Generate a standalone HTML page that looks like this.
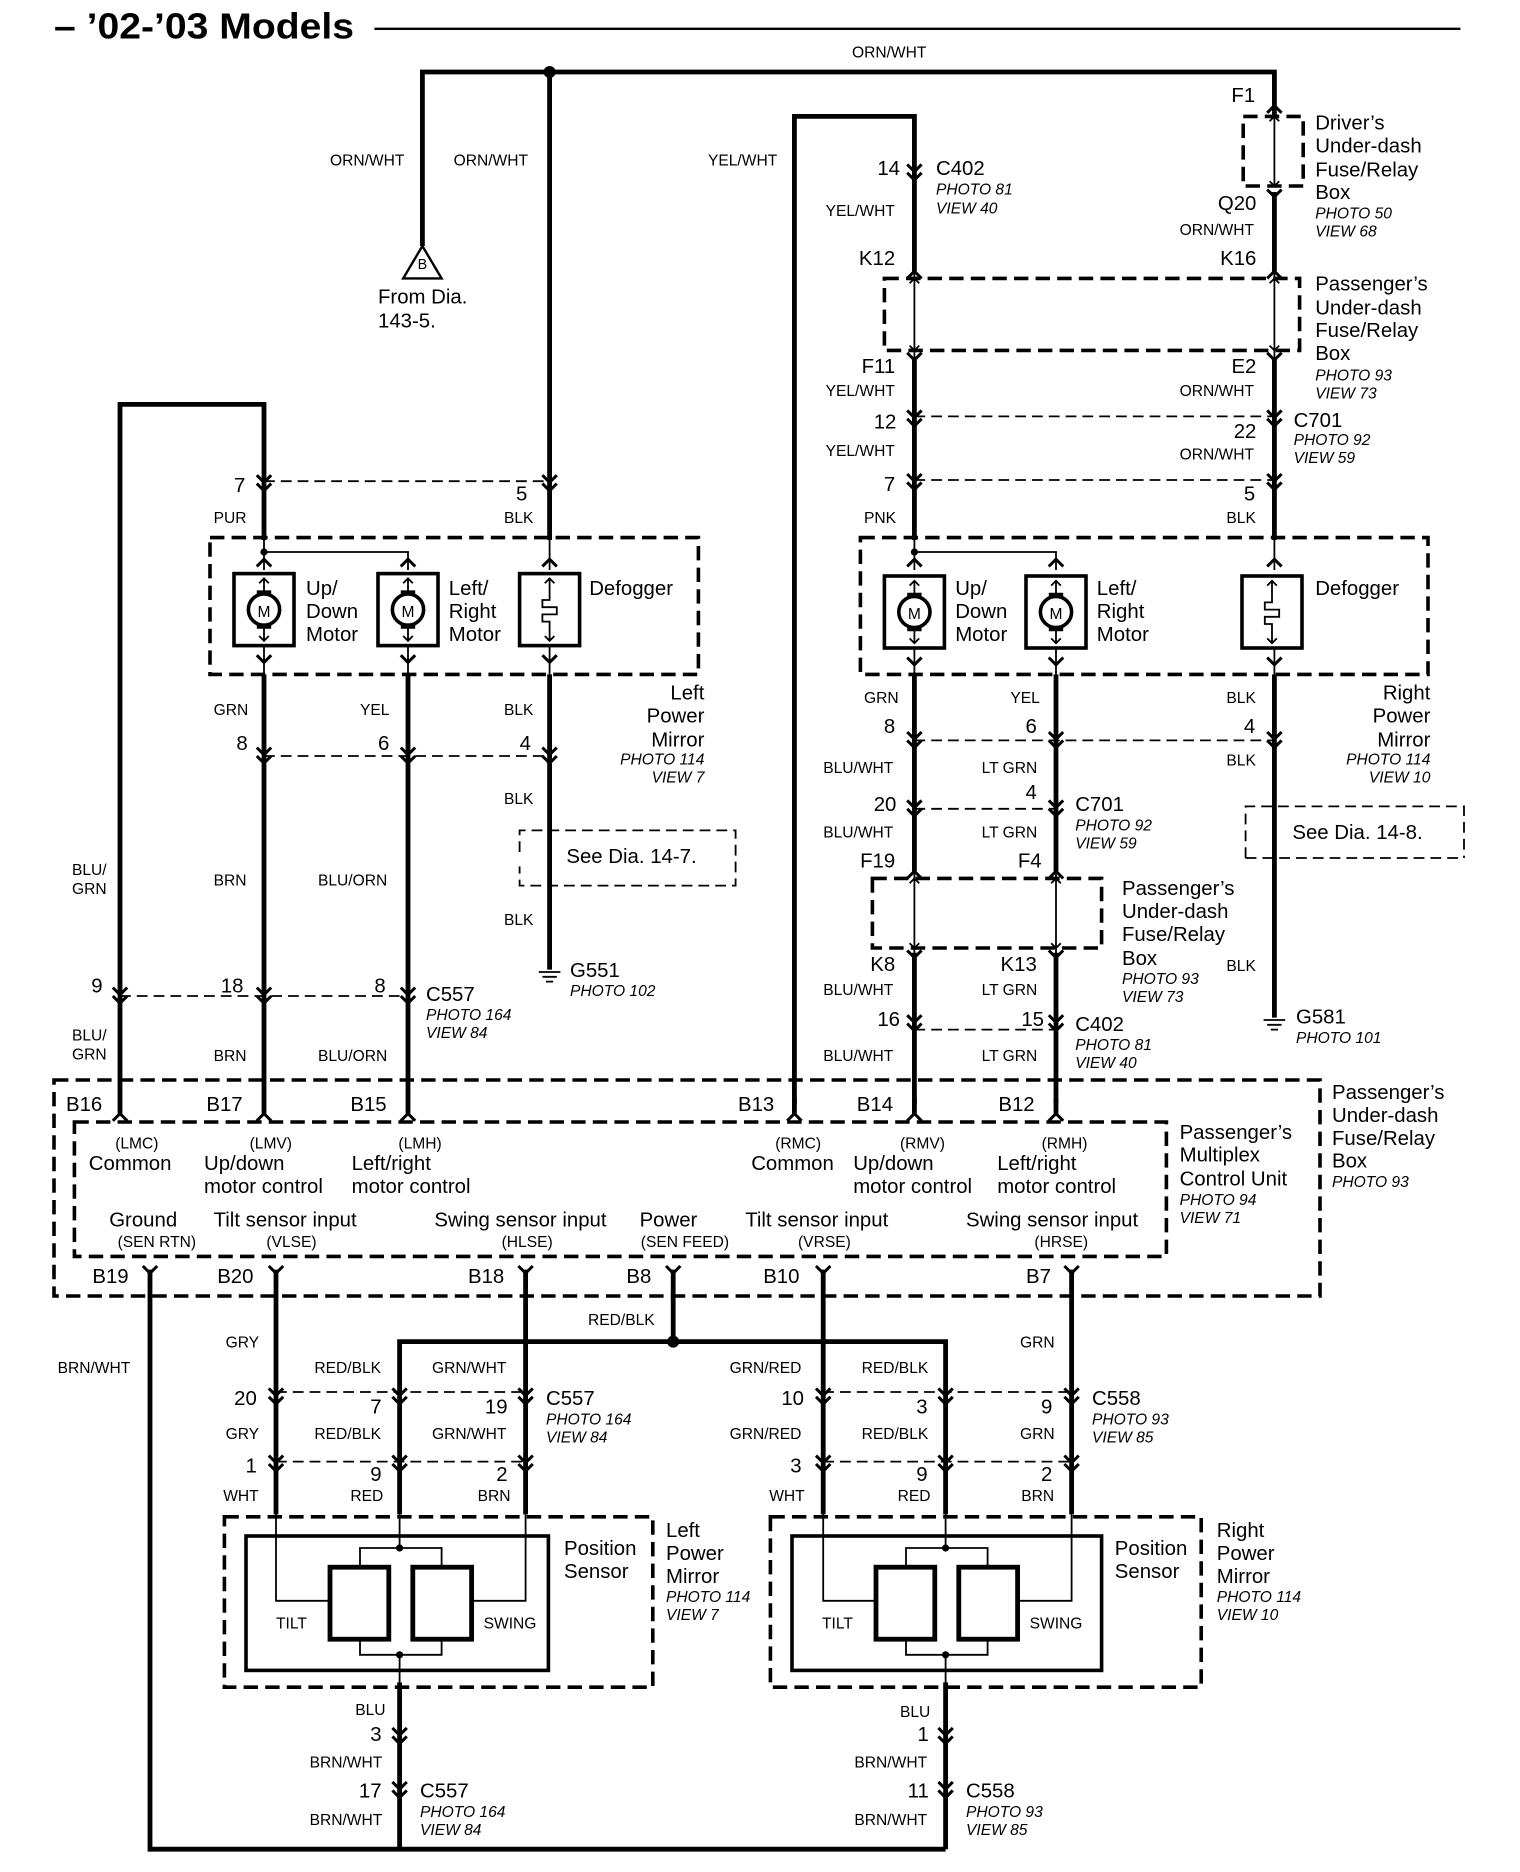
<!DOCTYPE html>
<html><head><meta charset="utf-8"><style>
html,body{margin:0;padding:0;background:#fff}
svg{display:block}
text{font-family:"Liberation Sans",Arial,sans-serif;fill:#000}
.t{font-size:17px}
.s{font-size:13px}
.i{font-size:13px;font-style:italic}
.x{font-size:12px}
.w{stroke:#000;stroke-width:4;fill:none}
.n{stroke:#000;stroke-width:1.5;fill:none}
.d{stroke:#000;stroke-width:1.5;fill:none;stroke-dasharray:9,5}
.D{stroke:#000;stroke-width:3;fill:none;stroke-dasharray:12,6}
.c{stroke:#000;stroke-width:2.5;fill:none}
</style></head><body>
<svg width="1520" height="1872" viewBox="0 0 1266.67 1560" xmlns="http://www.w3.org/2000/svg">
<defs>
<g id="cn"><path class="c" d="M-6,-5 L0,1 L6,-5 M-6,2 L0,8 L6,2"/></g>
<g id="pu"><path class="c" d="M-6,6 L0,0 L6,6"/></g>
<g id="pd"><path class="c" d="M-6,-6 L0,0 L6,-6"/></g>
<g id="mot"><rect x="-25" y="0" width="50" height="60" stroke="#000" stroke-width="3" fill="none"/>
<circle cx="0" cy="30" r="13" stroke="#000" stroke-width="3" fill="none"/><text x="0" y="36" class="s" text-anchor="middle">M</text>
<path class="n" d="M0,4 V17 M0,43 V56 M-4,8 L0,4 L4,8 M-4,52 L0,56 L4,52"/><path stroke="#000" stroke-width="4" d="M-6,16 H6 M-6,44 H6"/></g>
<g id="def"><rect x="-25" y="0" width="50" height="60" stroke="#000" stroke-width="3" fill="none"/>
<path class="n" d="M0,4 V22 H-6 V28 H6 V34 H-6 V40 H0 V56 M-4,8 L0,4 L4,8 M-4,52 L0,56 L4,52"/></g>
<g id="gnd"><path class="n" d="M-9,0 H9 M-6,4 H6 M-3,8 H3" stroke-width="2"/></g>
</defs>

<!-- Title -->
<text x="45" y="32" style="font-size:30px;font-weight:bold" textLength="250" lengthAdjust="spacingAndGlyphs">– ’02-’03 Models</text>
<line x1="312" y1="24" x2="1217" y2="24" stroke="#000" stroke-width="2"/>

<!-- Top ORN/WHT -->
<path class="w" d="M352,205 V60 H1062 V93"/>
<circle cx="458" cy="60" r="5"/>
<text x="710" y="48" class="s">ORN/WHT</text>
<text x="275" y="138" class="s">ORN/WHT</text>
<text x="378" y="138" class="s">ORN/WHT</text>
<path d="M352,205 L336,232 H368 Z" stroke="#000" stroke-width="2" fill="#fff"/>
<text x="352" y="224" class="x" text-anchor="middle">B</text>
<text x="315" y="253" class="t">From Dia.</text>
<text x="315" y="273" class="t">143-5.</text>

<!-- left mirror defogger wire -->
<path class="w" d="M458,60 V450"/>
<path class="w" d="M220,450 V337 H100 V915"/>
<line class="d" x1="220" y1="401" x2="458" y2="401"/>
<use href="#cn" x="220" y="401"/><use href="#cn" x="458" y="401"/>
<text x="195" y="410" class="t">7</text><text x="430" y="417" class="t">5</text>
<text x="178" y="436" class="s">PUR</text><text x="420" y="436" class="s">BLK</text>

<!-- Left mirror -->
<rect x="175" y="448" width="407" height="114" class="D"/>
<path class="n" d="M220,450 V475 M220,460 H340 V475 M458,450 V475"/>
<circle cx="220" cy="460" r="3"/>
<use href="#pu" x="220" y="466"/><use href="#pu" x="340" y="466"/><use href="#pu" x="458" y="466"/>
<use href="#mot" x="220" y="478"/><use href="#mot" x="340" y="478"/><use href="#def" x="458" y="478"/>
<path class="n" d="M220,538 V562 M340,538 V562 M458,538 V562"/>
<use href="#pd" x="220" y="552"/><use href="#pd" x="340" y="552"/><use href="#pd" x="458" y="552"/>
<text x="255" y="496" class="t">Up/</text><text x="255" y="515" class="t">Down</text><text x="255" y="534" class="t">Motor</text>
<text x="374" y="496" class="t">Left/</text><text x="374" y="515" class="t">Right</text><text x="374" y="534" class="t">Motor</text>
<text x="491" y="496" class="t">Defogger</text>
<text x="587" y="583" class="t" text-anchor="end">Left</text>
<text x="587" y="602" class="t" text-anchor="end">Power</text>
<text x="587" y="622" class="t" text-anchor="end">Mirror</text>
<text x="587" y="637" class="i" text-anchor="end">PHOTO 114</text>
<text x="587" y="652" class="i" text-anchor="end">VIEW 7</text>

<path class="w" d="M220,562 V915 M340,562 V915 M458,562 V808"/>
<text x="178" y="596" class="s">GRN</text><text x="300" y="596" class="s">YEL</text><text x="420" y="596" class="s">BLK</text>
<line class="d" x1="220" y1="630" x2="458" y2="630"/>
<use href="#cn" x="220" y="628"/><use href="#cn" x="340" y="628"/><use href="#cn" x="458" y="628"/>
<text x="197" y="625" class="t">8</text><text x="315" y="625" class="t">6</text><text x="433" y="625" class="t">4</text>
<text x="420" y="670" class="s">BLK</text>
<path d="M433,710 V692 H613 V738 H433 V722" class="d"/>
<text x="472" y="719" class="t">See Dia. 14-7.</text>
<text x="420" y="771" class="s">BLK</text>
<use href="#gnd" x="458" y="810"/>
<text x="475" y="814" class="t">G551</text><text x="475" y="830" class="i">PHOTO 102</text>
<text x="60" y="729" class="s">BLU/</text><text x="60" y="745" class="s">GRN</text>
<text x="178" y="738" class="s">BRN</text><text x="265" y="738" class="s">BLU/ORN</text>
<line class="d" x1="100" y1="830" x2="340" y2="830"/>
<use href="#cn" x="100" y="828"/><use href="#cn" x="220" y="828"/><use href="#cn" x="340" y="828"/>
<text x="76" y="827" class="t">9</text><text x="184" y="827" class="t">18</text><text x="312" y="827" class="t">8</text>
<text x="355" y="834" class="t">C557</text><text x="355" y="850" class="i">PHOTO 164</text><text x="355" y="865" class="i">VIEW 84</text>
<text x="60" y="867" class="s">BLU/</text><text x="60" y="883" class="s">GRN</text>
<text x="178" y="884" class="s">BRN</text><text x="265" y="884" class="s">BLU/ORN</text>

<!-- Right side top -->
<path class="w" d="M662,920 V97 H762 V226 M762,300 V450 M762,562 V726 M762,794 V920"/>
<text x="590" y="138" class="s">YEL/WHT</text>
<path class="w" d="M1062,93 V97 M1062,160 V226 M1062,300 V450 M1062,562 V848"/>
<use href="#pu" x="1062" y="88"/>
<rect x="1036" y="97" width="50" height="58" class="D"/>
<path class="n" d="M1062,97 V155 M1058,101 L1062,97 L1066,101 M1058,151 L1062,155 L1066,151"/>
<use href="#pd" x="1062" y="164"/>
<text x="1046" y="85" class="t" text-anchor="end">F1</text>
<text x="1096" y="108" class="t">Driver’s</text><text x="1096" y="127" class="t">Under-dash</text>
<text x="1096" y="147" class="t">Fuse/Relay</text><text x="1096" y="166" class="t">Box</text>
<text x="1096" y="182" class="i">PHOTO 50</text><text x="1096" y="197" class="i">VIEW 68</text>
<text x="1047" y="175" class="t" text-anchor="end">Q20</text>
<text x="983" y="196" class="s">ORN/WHT</text>
<text x="1047" y="221" class="t" text-anchor="end">K16</text>
<use href="#cn" x="762" y="142"/>
<text x="750" y="146" class="t" text-anchor="end">14</text>
<text x="780" y="146" class="t">C402</text><text x="780" y="162" class="i">PHOTO 81</text><text x="780" y="178" class="i">VIEW 40</text>
<text x="688" y="180" class="s">YEL/WHT</text>
<text x="746" y="221" class="t" text-anchor="end">K12</text>
<use href="#pu" x="762" y="226"/><use href="#pu" x="1062" y="226"/>
<rect x="737" y="232" width="346" height="60" class="D"/>
<path class="n" d="M762,226 V300 M1062,226 V300 M758,236 L762,232 L766,236 M758,288 L762,292 L766,288 M1058,236 L1062,232 L1066,236 M1058,288 L1062,292 L1066,288"/>
<use href="#pd" x="762" y="300"/><use href="#pd" x="1062" y="300"/>
<text x="1096" y="242" class="t">Passenger’s</text><text x="1096" y="262" class="t">Under-dash</text>
<text x="1096" y="281" class="t">Fuse/Relay</text><text x="1096" y="300" class="t">Box</text>
<text x="1096" y="317" class="i">PHOTO 93</text><text x="1096" y="332" class="i">VIEW 73</text>
<text x="746" y="311" class="t" text-anchor="end">F11</text><text x="1047" y="311" class="t" text-anchor="end">E2</text>
<text x="688" y="330" class="s">YEL/WHT</text><text x="983" y="330" class="s">ORN/WHT</text>
<line class="d" x1="762" y1="347" x2="1062" y2="347"/>
<use href="#cn" x="762" y="347"/><use href="#cn" x="1062" y="347"/>
<text x="747" y="357" class="t" text-anchor="end">12</text><text x="1047" y="365" class="t" text-anchor="end">22</text>
<text x="1078" y="356" class="t">C701</text><text x="1078" y="371" class="i">PHOTO 92</text><text x="1078" y="386" class="i">VIEW 59</text>
<text x="688" y="380" class="s">YEL/WHT</text><text x="983" y="383" class="s">ORN/WHT</text>
<line class="d" x1="762" y1="400" x2="1062" y2="400"/>
<use href="#cn" x="762" y="400"/><use href="#cn" x="1062" y="400"/>
<text x="746" y="409" class="t" text-anchor="end">7</text><text x="1046" y="417" class="t" text-anchor="end">5</text>
<text x="720" y="436" class="s">PNK</text><text x="1022" y="436" class="s">BLK</text>

<!-- Right mirror -->
<rect x="717" y="448" width="473" height="114" class="D"/>
<path class="n" d="M762,450 V475 M762,460 H880 V475 M1062,450 V475"/>
<circle cx="762" cy="460" r="3"/>
<use href="#pu" x="762" y="466"/><use href="#pu" x="880" y="466"/><use href="#pu" x="1062" y="466"/>
<use href="#mot" x="762" y="480"/><use href="#mot" x="880" y="480"/><use href="#def" x="1060" y="480"/>
<path class="n" d="M762,540 V562 M880,540 V562 M1062,540 V562"/>
<use href="#pd" x="762" y="554"/><use href="#pd" x="880" y="554"/><use href="#pd" x="1062" y="554"/>
<text x="796" y="496" class="t">Up/</text><text x="796" y="515" class="t">Down</text><text x="796" y="534" class="t">Motor</text>
<text x="914" y="496" class="t">Left/</text><text x="914" y="515" class="t">Right</text><text x="914" y="534" class="t">Motor</text>
<text x="1096" y="496" class="t">Defogger</text>
<text x="1192" y="583" class="t" text-anchor="end">Right</text>
<text x="1192" y="602" class="t" text-anchor="end">Power</text>
<text x="1192" y="622" class="t" text-anchor="end">Mirror</text>
<text x="1192" y="637" class="i" text-anchor="end">PHOTO 114</text>
<text x="1192" y="652" class="i" text-anchor="end">VIEW 10</text>

<path class="w" d="M880,562 V726 M880,794 V920"/>
<text x="720" y="586" class="s">GRN</text><text x="842" y="586" class="s">YEL</text><text x="1022" y="586" class="s">BLK</text>
<line class="d" x1="762" y1="617" x2="1062" y2="617"/>
<use href="#cn" x="762" y="615"/><use href="#cn" x="880" y="615"/><use href="#cn" x="1062" y="615"/>
<text x="746" y="611" class="t" text-anchor="end">8</text><text x="864" y="611" class="t" text-anchor="end">6</text><text x="1046" y="611" class="t" text-anchor="end">4</text>
<text x="686" y="644" class="s">BLU/WHT</text><text x="818" y="644" class="s">LT GRN</text><text x="1022" y="638" class="s">BLK</text>
<line class="d" x1="762" y1="674" x2="880" y2="674"/>
<use href="#cn" x="762" y="672"/><use href="#cn" x="880" y="672"/>
<text x="747" y="676" class="t" text-anchor="end">20</text><text x="864" y="666" class="t" text-anchor="end">4</text>
<text x="896" y="676" class="t">C701</text><text x="896" y="692" class="i">PHOTO 92</text><text x="896" y="707" class="i">VIEW 59</text>
<text x="686" y="698" class="s">BLU/WHT</text><text x="818" y="698" class="s">LT GRN</text>
<path d="M1038,715 V672 H1220 V715" class="d"/><line x1="1038" y1="715" x2="1220" y2="715" class="d"/>
<text x="1077" y="699" class="t">See Dia. 14-8.</text>
<text x="746" y="723" class="t" text-anchor="end">F19</text><text x="868" y="723" class="t" text-anchor="end">F4</text>
<use href="#pu" x="762" y="726"/><use href="#pu" x="880" y="726"/>
<rect x="727" y="732" width="191" height="58" class="D"/>
<path class="n" d="M762,726 V798 M880,726 V798 M758,736 L762,732 L766,736 M758,786 L762,790 L766,786 M876,736 L880,732 L884,736 M876,786 L880,790 L884,786"/>
<use href="#pd" x="762" y="798"/><use href="#pd" x="880" y="798"/>
<text x="935" y="746" class="t">Passenger’s</text><text x="935" y="765" class="t">Under-dash</text>
<text x="935" y="784" class="t">Fuse/Relay</text><text x="935" y="804" class="t">Box</text>
<text x="935" y="820" class="i">PHOTO 93</text><text x="935" y="835" class="i">VIEW 73</text>
<text x="746" y="809" class="t" text-anchor="end">K8</text><text x="864" y="809" class="t" text-anchor="end">K13</text>
<text x="686" y="829" class="s">BLU/WHT</text><text x="818" y="829" class="s">LT GRN</text>
<text x="1022" y="809" class="s">BLK</text>
<line class="d" x1="762" y1="858" x2="880" y2="858"/>
<use href="#cn" x="762" y="851"/><use href="#cn" x="880" y="851"/>
<text x="750" y="855" class="t" text-anchor="end">16</text><text x="870" y="855" class="t" text-anchor="end">15</text>
<text x="896" y="859" class="t">C402</text><text x="896" y="875" class="i">PHOTO 81</text><text x="896" y="890" class="i">VIEW 40</text>
<text x="686" y="884" class="s">BLU/WHT</text><text x="818" y="884" class="s">LT GRN</text>
<use href="#gnd" x="1062" y="850"/>
<text x="1080" y="853" class="t">G581</text><text x="1080" y="869" class="i">PHOTO 101</text>

<!-- Control unit -->
<rect x="45" y="900" width="1055" height="180" class="D"/>
<rect x="62" y="935" width="910" height="112" class="D"/>
<use href="#pu" x="100" y="928"/><use href="#pu" x="220" y="928"/><use href="#pu" x="340" y="928"/>
<use href="#pu" x="662" y="928"/><use href="#pu" x="762" y="928"/><use href="#pu" x="880" y="928"/>
<path class="w" d="M100,915 V928 M220,915 V928 M340,915 V928 M662,915 V928 M762,915 V928 M880,915 V928"/>
<text x="55" y="926" class="t">B16</text><text x="172" y="926" class="t">B17</text><text x="292" y="926" class="t">B15</text>
<text x="615" y="926" class="t">B13</text><text x="714" y="926" class="t">B14</text><text x="832" y="926" class="t">B12</text>
<text x="96" y="957" class="s">(LMC)</text><text x="74" y="975" class="t">Common</text>
<text x="208" y="957" class="s">(LMV)</text><text x="170" y="975" class="t">Up/down</text><text x="170" y="994" class="t">motor control</text>
<text x="332" y="957" class="s">(LMH)</text><text x="293" y="975" class="t">Left/right</text><text x="293" y="994" class="t">motor control</text>
<text x="646" y="957" class="s">(RMC)</text><text x="626" y="975" class="t">Common</text>
<text x="750" y="957" class="s">(RMV)</text><text x="711" y="975" class="t">Up/down</text><text x="711" y="994" class="t">motor control</text>
<text x="868" y="957" class="s">(RMH)</text><text x="831" y="975" class="t">Left/right</text><text x="831" y="994" class="t">motor control</text>
<text x="91" y="1022" class="t">Ground</text><text x="98" y="1039" class="s">(SEN RTN)</text>
<text x="178" y="1022" class="t">Tilt sensor input</text><text x="222" y="1039" class="s">(VLSE)</text>
<text x="362" y="1022" class="t">Swing sensor input</text><text x="418" y="1039" class="s">(HLSE)</text>
<text x="533" y="1022" class="t">Power</text><text x="534" y="1039" class="s">(SEN FEED)</text>
<text x="621" y="1022" class="t">Tilt sensor input</text><text x="665" y="1039" class="s">(VRSE)</text>
<text x="805" y="1022" class="t">Swing sensor input</text><text x="862" y="1039" class="s">(HRSE)</text>
<text x="983" y="949" class="t">Passenger’s</text><text x="983" y="968" class="t">Multiplex</text>
<text x="983" y="988" class="t">Control Unit</text><text x="983" y="1004" class="i">PHOTO 94</text><text x="983" y="1019" class="i">VIEW 71</text>
<text x="1110" y="916" class="t">Passenger’s</text><text x="1110" y="935" class="t">Under-dash</text>
<text x="1110" y="954" class="t">Fuse/Relay</text><text x="1110" y="973" class="t">Box</text><text x="1110" y="989" class="i">PHOTO 93</text>
<text x="77" y="1069" class="t">B19</text><text x="181" y="1069" class="t">B20</text><text x="390" y="1069" class="t">B18</text>
<text x="522" y="1069" class="t">B8</text><text x="636" y="1069" class="t">B10</text><text x="855" y="1069" class="t">B7</text>
<use href="#pd" x="125" y="1061"/><use href="#pd" x="230" y="1061"/><use href="#pd" x="438" y="1061"/>
<use href="#pd" x="561" y="1061"/><use href="#pd" x="686" y="1061"/><use href="#pd" x="893" y="1061"/>

<!-- Bottom wires -->
<path class="w" d="M125,1058 V1541 H788"/>
<path class="w" d="M230,1058 V1262 M438,1058 V1262 M686,1058 V1262 M893,1058 V1262"/>
<path class="w" d="M561,1058 V1118 M333,1262 V1118 H788 V1262"/>
<circle cx="561" cy="1118" r="5"/>
<path class="w" d="M333,1402 V1541 M788,1402 V1541"/>
<text x="48" y="1144" class="s">BRN/WHT</text>
<text x="188" y="1123" class="s">GRY</text><text x="262" y="1144" class="s">RED/BLK</text><text x="360" y="1144" class="s">GRN/WHT</text>
<text x="490" y="1104" class="s">RED/BLK</text>
<text x="608" y="1144" class="s">GRN/RED</text><text x="718" y="1144" class="s">RED/BLK</text><text x="850" y="1123" class="s">GRN</text>
<line class="d" x1="230" y1="1160" x2="438" y2="1160"/><line class="d" x1="686" y1="1160" x2="893" y2="1160"/>
<line class="d" x1="230" y1="1218" x2="438" y2="1218"/><line class="d" x1="686" y1="1218" x2="893" y2="1218"/>
<g>
<use href="#cn" x="230" y="1162"/><use href="#cn" x="333" y="1162"/><use href="#cn" x="438" y="1162"/>
<use href="#cn" x="686" y="1162"/><use href="#cn" x="788" y="1162"/><use href="#cn" x="893" y="1162"/>
<use href="#cn" x="230" y="1218"/><use href="#cn" x="333" y="1218"/><use href="#cn" x="438" y="1218"/>
<use href="#cn" x="686" y="1218"/><use href="#cn" x="788" y="1218"/><use href="#cn" x="893" y="1218"/>
</g>
<text x="214" y="1171" class="t" text-anchor="end">20</text><text x="318" y="1178" class="t" text-anchor="end">7</text><text x="423" y="1178" class="t" text-anchor="end">19</text>
<text x="455" y="1171" class="t">C557</text><text x="455" y="1187" class="i">PHOTO 164</text><text x="455" y="1202" class="i">VIEW 84</text>
<text x="670" y="1171" class="t" text-anchor="end">10</text><text x="773" y="1178" class="t" text-anchor="end">3</text><text x="877" y="1178" class="t" text-anchor="end">9</text>
<text x="910" y="1171" class="t">C558</text><text x="910" y="1187" class="i">PHOTO 93</text><text x="910" y="1202" class="i">VIEW 85</text>
<text x="188" y="1199" class="s">GRY</text><text x="262" y="1199" class="s">RED/BLK</text><text x="360" y="1199" class="s">GRN/WHT</text>
<text x="608" y="1199" class="s">GRN/RED</text><text x="718" y="1199" class="s">RED/BLK</text><text x="850" y="1199" class="s">GRN</text>
<text x="214" y="1227" class="t" text-anchor="end">1</text><text x="318" y="1234" class="t" text-anchor="end">9</text><text x="423" y="1234" class="t" text-anchor="end">2</text>
<text x="668" y="1227" class="t" text-anchor="end">3</text><text x="773" y="1234" class="t" text-anchor="end">9</text><text x="877" y="1234" class="t" text-anchor="end">2</text>
<text x="186" y="1251" class="s">WHT</text><text x="292" y="1251" class="s">RED</text><text x="398" y="1251" class="s">BRN</text>
<text x="641" y="1251" class="s">WHT</text><text x="748" y="1251" class="s">RED</text><text x="851" y="1251" class="s">BRN</text>

<!-- Left sensor -->
<rect x="187" y="1264" width="357" height="142" class="D"/>
<rect x="205" y="1280" width="252" height="112" stroke="#000" stroke-width="3" fill="none"/>
<rect x="275" y="1306" width="49" height="60" stroke="#000" stroke-width="4" fill="none"/>
<rect x="344" y="1306" width="49" height="60" stroke="#000" stroke-width="4" fill="none"/>
<path class="n" d="M230,1262 V1334 H275 M438,1262 V1334 H393 M333,1262 V1290 M300,1306 V1290 H368 V1306 M300,1366 V1379 H368 V1366 M333,1379 V1406"/>
<circle cx="333" cy="1290" r="3"/><circle cx="333" cy="1379" r="3"/>
<text x="230" y="1357" class="s">TILT</text><text x="403" y="1357" class="s">SWING</text>
<text x="470" y="1296" class="t">Position</text><text x="470" y="1315" class="t">Sensor</text>
<text x="555" y="1281" class="t">Left</text><text x="555" y="1300" class="t">Power</text><text x="555" y="1319" class="t">Mirror</text>
<text x="555" y="1335" class="i">PHOTO 114</text><text x="555" y="1350" class="i">VIEW 7</text>
<text x="296" y="1429" class="s">BLU</text>
<use href="#cn" x="333" y="1445"/><text x="318" y="1451" class="t" text-anchor="end">3</text>
<text x="258" y="1473" class="s">BRN/WHT</text>
<use href="#cn" x="333" y="1490"/><text x="318" y="1498" class="t" text-anchor="end">17</text>
<text x="350" y="1498" class="t">C557</text><text x="350" y="1514" class="i">PHOTO 164</text><text x="350" y="1529" class="i">VIEW 84</text>
<text x="258" y="1521" class="s">BRN/WHT</text>

<!-- Right sensor -->
<rect x="642" y="1264" width="359" height="142" class="D"/>
<rect x="660" y="1280" width="258" height="112" stroke="#000" stroke-width="3" fill="none"/>
<rect x="730" y="1306" width="49" height="60" stroke="#000" stroke-width="4" fill="none"/>
<rect x="799" y="1306" width="49" height="60" stroke="#000" stroke-width="4" fill="none"/>
<path class="n" d="M686,1262 V1334 H730 M893,1262 V1334 H848 M788,1262 V1290 M755,1306 V1290 H823 V1306 M755,1366 V1379 H823 V1366 M788,1379 V1406"/>
<circle cx="788" cy="1290" r="3"/><circle cx="788" cy="1379" r="3"/>
<text x="685" y="1357" class="s">TILT</text><text x="858" y="1357" class="s">SWING</text>
<text x="929" y="1296" class="t">Position</text><text x="929" y="1315" class="t">Sensor</text>
<text x="1014" y="1281" class="t">Right</text><text x="1014" y="1300" class="t">Power</text><text x="1014" y="1319" class="t">Mirror</text>
<text x="1014" y="1335" class="i">PHOTO 114</text><text x="1014" y="1350" class="i">VIEW 10</text>
<text x="750" y="1431" class="s">BLU</text>
<use href="#cn" x="788" y="1445"/><text x="774" y="1451" class="t" text-anchor="end">1</text>
<text x="712" y="1473" class="s">BRN/WHT</text>
<use href="#cn" x="788" y="1490"/><text x="774" y="1498" class="t" text-anchor="end">11</text>
<text x="805" y="1498" class="t">C558</text><text x="805" y="1514" class="i">PHOTO 93</text><text x="805" y="1529" class="i">VIEW 85</text>
<text x="712" y="1521" class="s">BRN/WHT</text>
</svg>
</body></html>
